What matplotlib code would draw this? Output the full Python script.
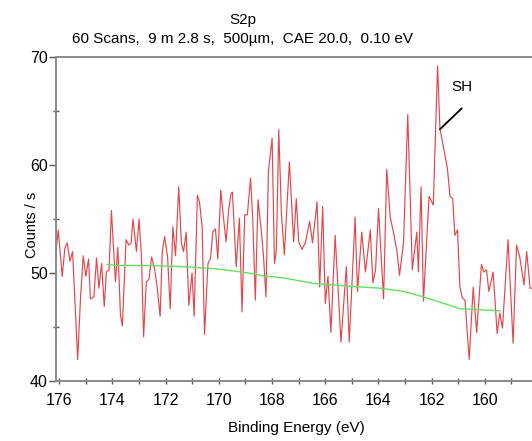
import matplotlib
matplotlib.use("Agg")
import matplotlib.pyplot as plt
from matplotlib.ticker import MultipleLocator, FixedLocator

plt.rcParams['font.family'] = ['Liberation Sans', 'DejaVu Sans']

# Spectrum (binding energy in eV, counts/s)
energy = [176.12, 176.04, 175.89, 175.79, 175.70, 175.60, 175.50, 175.31, 175.20, 175.10,
          175.00, 174.90, 174.83, 174.70, 174.60, 174.51, 174.41, 174.31, 174.23, 174.13,
          174.04, 173.89, 173.80, 173.70, 173.63, 173.49, 173.39, 173.30, 173.23, 173.10,
          173.00, 172.91, 172.83, 172.73, 172.63, 172.53, 172.41, 172.33, 172.21, 172.13,
          172.04, 171.93, 171.83, 171.73, 171.63, 171.51, 171.41, 171.33, 171.23, 171.13,
          171.01, 170.93, 170.81, 170.73, 170.63, 170.54, 170.41, 170.31, 170.23, 170.13,
          170.04, 169.93, 169.83, 169.73, 169.63, 169.54, 169.49, 169.35, 169.23, 169.13,
          169.03, 168.93, 168.81, 168.73, 168.63, 168.53, 168.41, 168.33, 168.23, 168.14,
          168.00, 167.91, 167.84, 167.75, 167.65, 167.54, 167.35, 167.19, 167.09, 167.00,
          166.88, 166.75, 166.59, 166.48, 166.31, 166.21, 166.10, 166.00, 165.90, 165.79,
          165.63, 165.41, 165.21, 165.10, 164.88, 164.79, 164.63, 164.49, 164.31, 164.21,
          164.11, 164.00, 163.81, 163.69, 163.56, 163.44, 163.31, 163.21, 163.06, 162.90,
          162.73, 162.56, 162.50, 162.40, 162.31, 162.10, 161.94, 161.78, 161.69, 161.56,
          161.41, 161.31, 161.21, 161.13, 161.03, 160.94, 160.85, 160.75, 160.59, 160.44,
          160.31, 160.13, 160.04, 159.94, 159.85, 159.69, 159.54, 159.44, 159.34, 159.13,
          158.94, 158.81, 158.69, 158.53, 158.43, 158.30, 158.10]
counts = [52.1, 54.0, 49.7, 52.3, 52.8, 51.1, 52.0, 42.0, 47.8, 51.6,
          49.7, 51.3, 47.6, 47.8, 51.4, 48.6, 50.9, 46.9, 50.1, 50.3,
          55.8, 49.2, 52.4, 46.1, 45.1, 53.1, 52.6, 52.8, 55.0, 52.0,
          55.0, 51.5, 44.1, 49.2, 49.4, 51.5, 50.3, 48.9, 46.0, 52.0,
          53.4, 51.5, 46.7, 54.3, 51.6, 58.0, 52.8, 52.0, 53.8, 47.0,
          50.0, 46.0, 57.2, 56.6, 54.3, 44.3, 50.9, 51.4, 53.8, 54.1,
          51.3, 57.7, 55.2, 52.9, 55.9, 57.4, 57.5, 50.6, 55.1, 46.4,
          55.4, 55.4, 58.8, 55.2, 47.5, 56.8, 54.0, 51.8, 47.8, 59.4,
          62.5, 50.9, 52.1, 63.3, 55.5, 51.7, 60.3, 52.9, 56.9, 52.9,
          52.2, 52.8, 54.8, 52.8, 56.6, 48.7, 56.2, 47.2, 49.7, 44.5,
          53.5, 43.6, 50.6, 43.6, 55.2, 48.3, 53.8, 50.1, 54.0, 49.1,
          50.3, 56.0, 47.6, 59.6, 55.2, 53.8, 52.1, 49.8, 52.8, 64.7,
          50.3, 53.8, 50.1, 58.0, 47.4, 57.1, 56.3, 69.2, 63.4, 61.7,
          59.7, 57.1, 56.9, 53.5, 54.0, 48.7, 47.7, 47.5, 42.0, 48.7,
          44.5, 50.8, 50.1, 50.3, 48.3, 50.1, 44.4, 46.3, 44.9, 53.1,
          43.5, 52.6, 51.5, 48.9, 52.0, 48.6, 48.6]

# Background
bg_energy = [174.20, 173.85, 172.60, 171.35, 170.10, 168.85, 168.22, 167.69, 166.44,
             165.19, 163.94, 163.06, 162.31, 161.56, 160.94, 160.19, 159.41]
bg_counts = [50.8, 50.7, 50.7, 50.6, 50.4, 50.0, 49.7, 49.6, 49.05,
             48.8, 48.6, 48.3, 47.8, 47.2, 46.7, 46.6, 46.5]

x_major_ticks = [176, 174, 172, 170, 168, 166, 164, 162, 160]
title_line1 = "S2p"
title_line2 = "60 Scans,  9 m 2.8 s,  500\u00b5m,  CAE 20.0,  0.10 eV"
peak_label = "SH"

W, H = 532, 441
fig = plt.figure(figsize=(W / 100, H / 100), dpi=100)
ax = fig.add_axes([56.1 / W, 60 / H, (538.1 - 56.1) / W, (381 - 57.3) / H])

ax.plot(energy, counts, color='#e2474d', lw=0.85)
ax.plot(bg_energy, bg_counts, color='#66e060', lw=1.0)

ax.set_xlim(176.12, 158.0)
ax.set_ylim(40, 70)
ax.xaxis.set_major_locator(FixedLocator(x_major_ticks))
ax.xaxis.set_minor_locator(MultipleLocator(1))
ax.yaxis.set_major_locator(MultipleLocator(10))
ax.yaxis.set_minor_locator(MultipleLocator(5))

for s in ax.spines.values():
    s.set_color('#8a8a8a')
    s.set_linewidth(1.4)

ax.tick_params(axis='x', which='both', direction='inout', length=5, width=1,
               color='#555555', labelsize=11.5, pad=6)
ax.tick_params(axis='y', which='major', direction='out', length=5, width=1,
               color='#555555', labelsize=11.5, pad=1)
ax.tick_params(axis='y', which='minor', direction='inout', length=5, width=1,
               color='#555555')

ax.set_xlabel("Binding Energy (eV)", fontsize=11)
ax.set_ylabel("Counts / s", fontsize=10.5)
ax.xaxis.set_label_coords((296 - 56.1) / (538.1 - 56.1), -(428 - 381) / (381 - 57.3))
ax.xaxis.label.set_va('center')
ax.yaxis.set_label_coords(-(56.1 - 32) / (538.1 - 56.1), (381 - 225) / (381 - 57.3))
ax.yaxis.label.set_va('center')

fig.text(243 / W, 1 - 20 / H, title_line1, ha='center', va='center', fontsize=11)
fig.text(243 / W, 1 - 39 / H, title_line2, ha='center', va='center', fontsize=11)

ax.text(160.87, 67.28, peak_label, ha='center', va='center', fontsize=11)
ax.annotate("", xy=(161.69, 63.33), xytext=(160.87, 65.27),
            arrowprops=dict(arrowstyle='-', color='black', lw=1.3,
                            shrinkA=0, shrinkB=0))

fig.savefig("out.png", dpi=100)
